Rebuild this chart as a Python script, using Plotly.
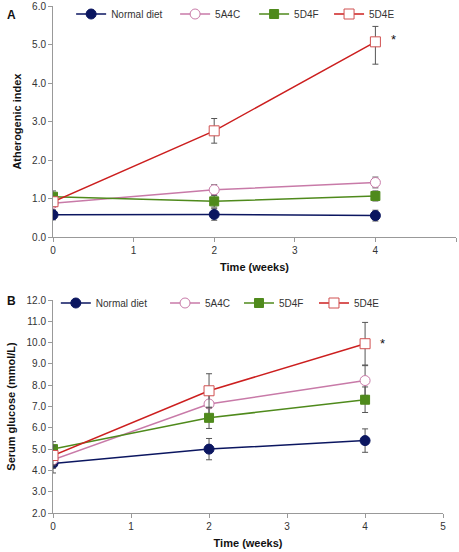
import plotly.graph_objects as go

weeks = [0, 2, 4]
series_names = ["Normal diet", "5A4C", "5D4F", "5D4E"]

# Panel A: Atherogenic index
athero_normal = [0.58, 0.59, 0.56]
athero_normal_err = [0.13, 0.15, 0.14]
athero_5a4c = [0.88, 1.23, 1.42]
athero_5a4c_err = [0.10, 0.13, 0.14]
athero_5d4f = [1.05, 0.93, 1.07]
athero_5d4f_err = [0.15, 0.15, 0.13]
athero_5d4e = [0.92, 2.76, 5.07]
athero_5d4e_err_plus = [0.12, 0.32, 0.40]
athero_5d4e_err_minus = [0.12, 0.32, 0.58]

# Panel B: Serum glucose
gluc_normal = [4.33, 5.0, 5.4]
gluc_normal_err = [0.45, 0.5, 0.55]
gluc_5a4c = [4.5, 7.12, 8.22]
gluc_5a4c_err = [0.4, 0.55, 0.7]
gluc_5d4f = [5.0, 6.47, 7.32]
gluc_5d4f_err = [0.35, 0.5, 0.6]
gluc_5d4e = [4.7, 7.74, 9.95]
gluc_5d4e_err = [0.45, 0.8, 1.0]

x_ticks = [0, 1, 2, 3, 4, 5]
y_ticks_a = [0, 1, 2, 3, 4, 5, 6]
y_ticks_b = [2, 3, 4, 5, 6, 7, 8, 9, 10, 11, 12]

sig_x = 4.22
sig_a_y = 5.12
sig_b_y = 9.98

navy = "#0b1660"
pink = "#c87aa8"
green = "#4f8a1c"
red = "#cc1f1f"
err_col = "#555555"

styles = [
    dict(line=dict(color=navy, width=1.5), marker=dict(symbol="circle", size=10, color=navy, line=dict(color=navy, width=1))),
    dict(line=dict(color=pink, width=1.5), marker=dict(symbol="circle", size=10, color="white", line=dict(color=pink, width=1))),
    dict(line=dict(color=green, width=1.5), marker=dict(symbol="square", size=9, color=green, line=dict(color=green, width=1))),
    dict(line=dict(color=red, width=1.5), marker=dict(symbol="square", size=10, color="white", line=dict(color="#d05050", width=1))),
]

# legend slot placement (paper coords) for each series, panel A then panel B
legend_x_a = [0.045, 0.303, 0.499, 0.685]
legend_x_b = [0.007, 0.278, 0.4615, 0.6476]
legend_y_a = 1.0128
legend_y_b = 0.4428

fig = go.Figure()

a_vals = [athero_normal, athero_5a4c, athero_5d4f, athero_5d4e]
a_errp = [athero_normal_err, athero_5a4c_err, athero_5d4f_err, athero_5d4e_err_plus]
a_errm = [athero_normal_err, athero_5a4c_err, athero_5d4f_err, athero_5d4e_err_minus]
for i, (name, v, ep, em, st) in enumerate(zip(series_names, a_vals, a_errp, a_errm, styles)):
    lg = "legend" if i == 0 else f"legend{i + 1}"
    fig.add_trace(go.Scatter(
        x=weeks, y=v, name=name, mode="lines+markers", showlegend=True,
        error_y=dict(type="data", array=ep, arrayminus=em, color=err_col, thickness=1, width=3),
        xaxis="x", yaxis="y", legend=lg, **st))

b_vals = [gluc_normal, gluc_5a4c, gluc_5d4f, gluc_5d4e]
b_err = [gluc_normal_err, gluc_5a4c_err, gluc_5d4f_err, gluc_5d4e_err]
for i, (name, v, e, st) in enumerate(zip(series_names, b_vals, b_err, styles)):
    fig.add_trace(go.Scatter(
        x=weeks, y=v, name=name, mode="lines+markers", showlegend=True,
        error_y=dict(type="data", array=e, color=err_col, thickness=1, width=3),
        xaxis="x2", yaxis="y2", legend=f"legend{i + 5}", **st))

axis_common = dict(showgrid=False, zeroline=False, showline=True, linecolor="#999999", linewidth=1,
                   ticks="outside", ticklen=4, tickcolor="#999999", automargin=False,
                   tickfont=dict(family="Liberation Sans, Arial", size=10, color="#333333"))
title_font = dict(family="Liberation Sans, Arial", size=11, color="#111111")

legend_common = dict(orientation="h", xanchor="left", yanchor="top", visible=True,
                     bgcolor="rgba(0,0,0,0)", font=dict(size=10, color="#333333"))
legends = {}
for i, lx in enumerate(legend_x_a):
    key = "legend" if i == 0 else f"legend{i + 1}"
    legends[key] = dict(x=lx, y=legend_y_a, **legend_common)
for i, lx in enumerate(legend_x_b):
    legends[f"legend{i + 5}"] = dict(x=lx, y=legend_y_b, **legend_common)

fig.update_layout(
    width=459, height=552,
    showlegend=True,
    margin=dict(l=53, r=3, t=6, b=39, autoexpand=False),
    paper_bgcolor="white", plot_bgcolor="white",
    font=dict(family="Liberation Sans, Arial", size=10, color="#333333"),
    xaxis=dict(domain=[0, 1], range=[0, 5], tickvals=x_ticks, anchor="y",
               title=dict(text="<b>Time (weeks)</b>", font=title_font, standoff=8), **axis_common),
    yaxis=dict(domain=[0.544, 1.0], range=[0, 6], tickvals=y_ticks_a, tickformat=".1f", anchor="x",
               title=dict(text="<b>Atherogenic index</b>", font=title_font, standoff=8), **axis_common),
    xaxis2=dict(domain=[0, 0.968], range=[0, 5], tickvals=x_ticks, anchor="y2",
                title=dict(text="<b>Time (weeks)</b>", font=title_font, standoff=8), **axis_common),
    yaxis2=dict(domain=[0, 0.42], range=[2, 12], tickvals=y_ticks_b, tickformat=".1f", anchor="x2",
                title=dict(text="<b>Serum glucose (mmol/L)</b>", font=title_font, standoff=8), **axis_common),
    annotations=[
        dict(text="<b>A</b>", x=-0.12, y=1.0, xref="paper", yref="paper", xanchor="left", yanchor="top",
             showarrow=False, font=dict(size=12, color="#111111")),
        dict(text="<b>B</b>", x=-0.12, y=0.435, xref="paper", yref="paper", xanchor="left", yanchor="top",
             showarrow=False, font=dict(size=12, color="#111111")),
        dict(text="*", x=sig_x, y=sig_a_y, xref="x", yref="y", showarrow=False, font=dict(size=13, color="#111111")),
        dict(text="*", x=sig_x, y=sig_b_y, xref="x2", yref="y2", showarrow=False, font=dict(size=13, color="#111111")),
    ],
    **legends,
)

fig.write_html("out.html", config={"displayModeBar": False},
               post_script="document.body.style.margin='0';document.body.style.padding='0';")
